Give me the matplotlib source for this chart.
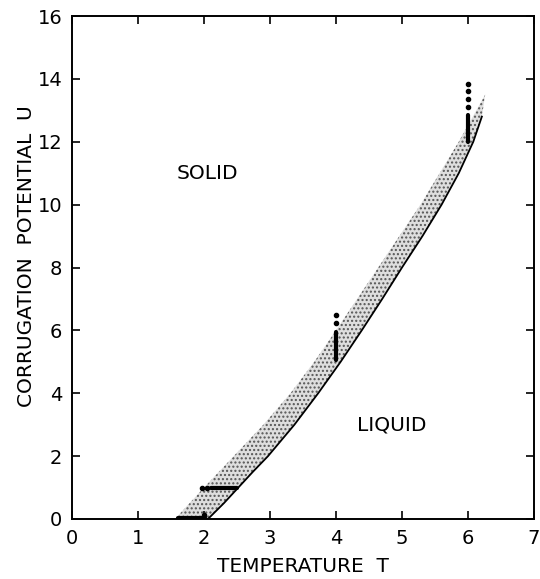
import matplotlib
matplotlib.use("Agg")
import matplotlib.pyplot as plt

# Phase boundary band (U values and temperatures T of the two edges)
lower_U = [0, 0.5, 1, 1.5, 2, 3, 4, 5, 6, 7, 8, 9, 10, 11, 12, 12.8]
lower_T = [2.06, 2.30, 2.52, 2.74, 2.97, 3.37, 3.73, 4.07, 4.39, 4.70, 5.0, 5.31, 5.6, 5.86, 6.08, 6.21]
upper_U = [0, 1, 2, 3, 4, 5, 6, 7, 8, 10, 12, 13.5]
upper_T = [1.56, 2.0, 2.45, 2.9, 3.31, 3.67, 4.0, 4.32, 4.64, 5.28, 5.86, 6.26]

# Simulation points (isolated dots)
dot_T = [4.0, 4.0, 6.0, 6.0, 6.0, 6.0, 1.97, 2.04, 2.0]
dot_U = [6.25, 6.5, 13.1, 13.35, 13.6, 13.85, 1.0, 1.0, 0.13]

# Dense runs of simulation points (drawn as thick segments)
vseg_T = [4.0, 6.0]
vseg_U0 = [5.05, 12.0]
vseg_U1 = [5.95, 12.85]
hseg_U = [1.0, 0.03]
hseg_T0 = [2.1, 1.6]
hseg_T1 = [2.5, 2.02]

xticks = [0, 1, 2, 3, 4, 5, 6, 7]
yticks = [0, 2, 4, 6, 8, 10, 12, 14, 16]

plt.rcParams['hatch.linewidth'] = 1.0
fig = plt.figure(figsize=(5.4, 5.79), dpi=100)
ax = fig.add_axes([72/540, 60/579, 462/540, 503/579])

# stippled band
band_U = upper_U + lower_U[::-1]
band_T = upper_T + lower_T[::-1]
ax.fill(band_T, band_U, facecolor='#dedede', edgecolor='#555555', hatch='....', linewidth=0)
ax.plot(lower_T, lower_U, color='black', linewidth=1.3)

for t, u0, u1 in zip(vseg_T, vseg_U0, vseg_U1):
    ax.plot([t, t], [u0, u1], color='black', linewidth=3.0, solid_capstyle='round')
for u, t0, t1 in zip(hseg_U, hseg_T0, hseg_T1):
    ax.plot([t0, t1], [u, u], color='black', linewidth=3.0, solid_capstyle='round')
ax.plot(dot_T, dot_U, 'o', color='black', markersize=3)

ax.text(2.05, 11, 'SOLID', ha='center', va='center', fontsize=14.5)
ax.text(4.85, 3.0, 'LIQUID', ha='center', va='center', fontsize=14.5)

ax.set_xlim(0, 7)
ax.set_ylim(0, 16)
ax.set_xticks(xticks)
ax.set_yticks(yticks)
ax.tick_params(direction='in', length=6, width=1.2, labelsize=14, top=True, right=True, pad=7)
for s in ax.spines.values():
    s.set_linewidth(1.4)
ax.set_xlabel('TEMPERATURE  T', fontsize=14.5, labelpad=7)
ax.set_ylabel('CORRUGATION  POTENTIAL  U', fontsize=14.5)
ax.yaxis.set_label_coords(-0.079, 0.523)

fig.savefig('out.png', dpi=100)
